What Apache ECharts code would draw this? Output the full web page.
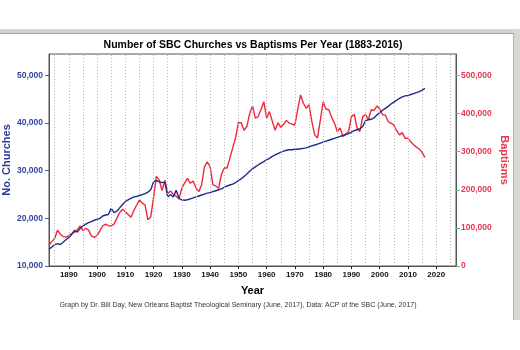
<!DOCTYPE html>
<html>
<head>
<meta charset="utf-8">
<script src="https://cdn.jsdelivr.net/npm/echarts@6/dist/echarts.min.js"></script>
<style>
html,body{margin:0;padding:0;background:#fff;}
#chart{width:520px;height:350px;}
</style>
</head>
<body>
<div id="chart"></div>
<script>
const firstYear = 1883;

// Number of SBC churches, 1883-2016
const churches = [
  13500, 14000, 14500, 14700, 14500, 15000, 15500,
  16000, 16600, 17500, 17100, 17900, 18400, 18800, 19100, 19300, 19600,
  19800, 20000, 20500, 20700, 20800, 22100, 21200, 21500, 22200, 22900,
  23500, 23900, 24200, 24500, 24600, 24800, 25000, 25200, 25500, 26000,
  27700, 27900, 27700, 27500, 27600, 24500, 25000, 24500, 25900, 24200,
  23900, 23800, 23900, 24100, 24300, 24500, 24700, 24900, 25100, 25300,
  25400, 25600, 25800, 26000, 26200, 26500, 26800, 27000, 27200, 27500,
  27900, 28300, 28800, 29300, 29900, 30400, 30800, 31200, 31600, 31900,
  32300, 32600, 33000, 33300, 33600, 33900, 34100, 34300, 34400, 34400,
  34500, 34500, 34600, 34700, 34800, 35000, 35200, 35400, 35600, 35800,
  36000, 36200, 36400, 36600, 36800, 37000, 37200, 37400, 37600, 37800,
  38100, 38400, 38600, 38800, 39300, 40500, 40700, 40800, 41100, 41700,
  42200, 42700, 43100, 43500, 44000, 44400, 44800, 45200, 45500, 45700,
  45800, 46000, 46200, 46400, 46600, 46900, 47300
];

// Baptisms per year, 1883-2016
const baptisms = [
  55000, 64000, 72000, 94000, 84000, 77000, 76000,
  80000, 85000, 88000, 95000, 105000, 93000, 99000, 94000, 79000, 75000,
  80000, 92000, 105000, 110000, 106000, 105000, 110000, 125000, 140000, 149000,
  143000, 135000, 128000, 145000, 160000, 173000, 165000, 160000, 121000, 129000,
  180000, 235000, 226000, 198000, 225000, 190000, 197000, 188000, 183000, 176000,
  204000, 218000, 230000, 217000, 223000, 205000, 195000, 213000, 261000, 273000,
  261000, 213000, 210000, 204000, 240000, 257000, 257000, 283000, 310000, 336000,
  376000, 376000, 356000, 366000, 400000, 420000, 388000, 392000, 410000, 431000,
  388000, 405000, 380000, 356000, 376000, 364000, 372000, 382000, 375000, 372000,
  370000, 411000, 449000, 427000, 414000, 423000, 379000, 344000, 336000, 383000,
  431000, 412000, 410000, 390000, 375000, 353000, 362000, 340000, 346000, 353000,
  392000, 398000, 362000, 353000, 392000, 397000, 384000, 410000, 408000, 420000,
  412000, 397000, 396000, 379000, 375000, 370000, 355000, 344000, 350000, 335000,
  335000, 326000, 318000, 312000, 307000, 298000, 285000
];

const years = churches.map((_, i) => firstYear + i);

// Tick labels and grid positions
const yearLabels = [1890, 1900, 1910, 1920, 1930, 1940, 1950, 1960, 1970, 1980, 1990, 2000, 2010, 2020];
const yearGridLines = [1885, 1890, 1895, 1900, 1905, 1910, 1915, 1920, 1925, 1930, 1935, 1940, 1945, 1950, 1955, 1960, 1965, 1970, 1975, 1980, 1985, 1990, 1995, 2000, 2005, 2010, 2015, 2020, 2025];
const churchTicks = [10000, 20000, 30000, 40000, 50000];
const baptismTicks = [0, 100000, 200000, 300000, 400000, 500000];

const titleText = 'Number of SBC Churches vs Baptisms Per Year (1883-2016)';
const footerText = 'Graph by Dr. Bill Day, New Orleans Baptist Theological Seminary (June, 2017), Data: ACP of the SBC (June, 2017)';

const FONT = '"Liberation Sans", Arial, Helvetica, sans-serif';
const fmt = v => Number(v).toLocaleString('en-US');

const chart = echarts.init(document.getElementById('chart'), null, {renderer: 'canvas'});
chart.setOption({
  animation: false,
  backgroundColor: '#ffffff',
  textStyle: {fontFamily: FONT},
  grid: {left: 49, top: 54, right: 64, bottom: 84, outerBoundsMode: 'none', containLabel: false,
         show: true, borderColor: '#555', borderWidth: 1, backgroundColor: 'transparent'},
  xAxis: {
    type: 'value', min: 1883, max: 2027, position: 'bottom',
    axisLine: {show: true, onZero: false, lineStyle: {color: '#555', width: 1}},
    axisTick: {show: true, customValues: yearLabels, length: 3, lineStyle: {color: '#222'}},
    axisLabel: {customValues: yearLabels, formatter: v => String(v), color: '#111', fontWeight: 'bold', fontSize: 8, margin: 5, fontFamily: FONT},
    splitLine: {show: false},
    name: 'Year', nameLocation: 'middle', nameGap: 19, nameMoveOverlap: false,
    nameTextStyle: {color: '#000', fontWeight: 'bold', fontSize: 11, fontFamily: FONT}
  },
  yAxis: [
    {
      type: 'value', min: 10000, max: 54500, position: 'left',
      axisLine: {show: true, lineStyle: {color: '#555', width: 1}},
      axisTick: {show: true, customValues: churchTicks, length: 4, lineStyle: {color: '#4a5a9a'}},
      axisLabel: {customValues: churchTicks, formatter: fmt, color: '#34449a', fontWeight: 'bold', fontSize: 8.5, margin: 6, fontFamily: FONT},
      splitLine: {show: false},
      name: 'No. Churches', nameLocation: 'middle', nameGap: 37, nameMoveOverlap: false,
      nameTextStyle: {color: '#2c3c94', fontWeight: 'bold', fontSize: 11, fontFamily: FONT}
    },
    {
      type: 'value', min: 0, max: 556250, position: 'right',
      axisLine: {show: true, lineStyle: {color: '#555', width: 1}},
      axisTick: {show: true, customValues: baptismTicks, length: 4, lineStyle: {color: '#66bb77'}},
      axisLabel: {customValues: baptismTicks, formatter: fmt, color: '#e8344a', fontWeight: 'bold', fontSize: 8.5, margin: 5, fontFamily: FONT},
      splitLine: {show: false},
      name: 'Baptisms', nameLocation: 'middle', nameGap: 43, nameRotate: -90, nameMoveOverlap: false,
      nameTextStyle: {color: '#e8344a', fontWeight: 'bold', fontSize: 11, fontFamily: FONT}
    }
  ],
  series: [
    {
      name: 'grid', type: 'line', xAxisIndex: 0, yAxisIndex: 0, z: 1,
      data: [], silent: true,
      markLine: {
        silent: true, symbol: ['none', 'none'], animation: false,
        label: {show: false},
        lineStyle: {type: [1, 2], color: '#b8b8b8', width: 1},
        emphasis: {disabled: true},
        data: yearGridLines.map(y => ({xAxis: y}))
      }
    },
    {
      name: 'Baptisms', type: 'line', xAxisIndex: 0, yAxisIndex: 1, z: 3,
      data: years.map((y, i) => [y, baptisms[i]]),
      showSymbol: false, symbol: 'none',
      lineStyle: {color: '#ee2a3a', width: 1.4},
      itemStyle: {color: '#ee2a3a'}
    },
    {
      name: 'Churches', type: 'line', xAxisIndex: 0, yAxisIndex: 0, z: 4,
      data: years.map((y, i) => [y, churches[i]]),
      showSymbol: false, symbol: 'none',
      lineStyle: {color: '#1c2c88', width: 1.4},
      itemStyle: {color: '#1c2c88'}
    }
  ],
  graphic: [
    {type: 'rect', silent: true, shape: {x: 0, y: 29, width: 520, height: 4}, style: {fill: '#d6d3cc'}},
    {type: 'line', silent: true, shape: {x1: 0, y1: 33.5, x2: 520, y2: 33.5}, style: {stroke: '#a8a59e', lineWidth: 1}},
    {type: 'rect', silent: true, shape: {x: 513, y: 29, width: 7, height: 291}, style: {fill: '#d9d7d1'}},
    {type: 'line', silent: true, shape: {x1: 513.5, y1: 33, x2: 513.5, y2: 320}, style: {stroke: '#b3b0a9', lineWidth: 1}},
    {type: 'text', silent: true, x: 253, y: 45,
     style: {text: titleText, font: 'bold 10.5px ' + FONT, fill: '#000', align: 'center', verticalAlign: 'middle'}},
    {type: 'text', silent: true, x: 238, y: 305.5,
     style: {text: footerText, font: '7px ' + FONT, fill: '#333', align: 'center', verticalAlign: 'middle'}}
  ]
});
</script>
</body>
</html>
